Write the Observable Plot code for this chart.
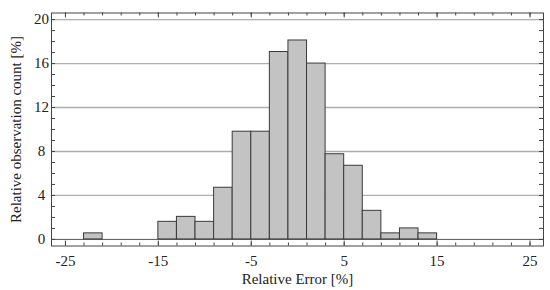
<!DOCTYPE html>
<html>
<head>
<meta charset="utf-8">
<script src="https://cdn.jsdelivr.net/npm/d3@7"></script>
<script src="https://cdn.jsdelivr.net/npm/@observablehq/plot@0.6"></script>
<style>
  html, body { margin: 0; padding: 0; background: #fff; }
  #chart { width: 550px; height: 290px; }
</style>
</head>
<body>
<div id="chart"></div>
<script>
// Histogram bins (relative error, %) and relative observation share (%)
const binLower = [-23, -15, -13, -11, -9, -7, -5, -3, -1, 1, 3, 5, 7, 9, 11, 13];
const binUpper = [-21, -13, -11, -9, -7, -5, -3, -1, 1, 3, 5, 7, 9, 11, 13, 15];
const shares   = [0.55, 1.6, 2.05, 1.6, 4.7, 9.8, 9.8, 17.05, 18.1, 16.0, 7.75, 6.7, 2.6, 0.55, 1.0, 0.55];

const xLabelTicks = [-25, -15, -5, 5, 15, 25];
const yLabelTicks = [0, 4, 8, 12, 16, 20];
const gridValues = [4, 8, 12, 16, 20];
const xMinorTicks = d3.range(-25, 26, 2);
const yMinorTicks = d3.range(0, 21, 1);

const xTitle = "Relative Error [%]";
const yTitle = "Relative observation count [%]";

const bins = binLower.map((lo, i) => ({x1: lo, x2: binUpper[i], v: shares[i]}));

const W = 550, H = 290;
const mL = 51, mR = 7, mT = 12.5, mB = 44.5;
const pw = W - mL - mR, ph = H - mT - mB;
const font = "'Liberation Serif', 'DejaVu Serif', serif";

const chart = Plot.plot({
  width: W,
  height: H,
  marginLeft: mL,
  marginRight: mR,
  marginTop: mT,
  marginBottom: mB,
  style: {fontFamily: font, fontSize: "15px", background: "#fff", color: "#222"},
  x: {domain: [-26.5, 26.45]},
  y: {domain: [-0.6, 20.6]},
  marks: [
    Plot.ruleY(gridValues, {stroke: "#adadad", strokeWidth: 1.3}),
    Plot.ruleY([0], {stroke: "#555", strokeWidth: 1}),
    Plot.rectY(bins, {x1: "x1", x2: "x2", y: "v", fill: "#c3c3c3", stroke: "#3a3a3a", strokeWidth: 1}),
    // minor x ticks (bottom and top, inward)
    Plot.tickX(xMinorTicks, {x: d => d, stroke: "#444", insetTop: ph - 3}),
    Plot.tickX(xMinorTicks, {x: d => d, stroke: "#444", insetBottom: ph - 3}),
    // major x ticks
    Plot.tickX(xLabelTicks, {x: d => d, stroke: "#444", insetTop: ph - 5}),
    Plot.tickX(xLabelTicks, {x: d => d, stroke: "#444", insetBottom: ph - 5}),
    // minor y ticks (left and right, inward)
    Plot.tickY(yMinorTicks, {y: d => d, stroke: "#444", insetRight: pw - 4}),
    Plot.tickY(yMinorTicks, {y: d => d, stroke: "#444", insetLeft: pw - 4}),
    Plot.axisX(xLabelTicks, {
      anchor: "bottom", tickSize: 0, tickPadding: 9, fontSize: 15,
      tickFormat: d => String(d),
      label: xTitle, labelAnchor: "center", labelArrow: "none", labelOffset: 38
    }),
    Plot.axisY(yLabelTicks, {
      anchor: "left", tickSize: 0, tickPadding: 10, fontSize: 15, textAnchor: "middle",
      tickFormat: d => String(d),
      label: yTitle, labelAnchor: "center", labelArrow: "none", labelOffset: 41
    }),
    Plot.frame({stroke: "#444", strokeWidth: 1})
  ]
});
document.getElementById("chart").appendChild(chart);
</script>
</body>
</html>
